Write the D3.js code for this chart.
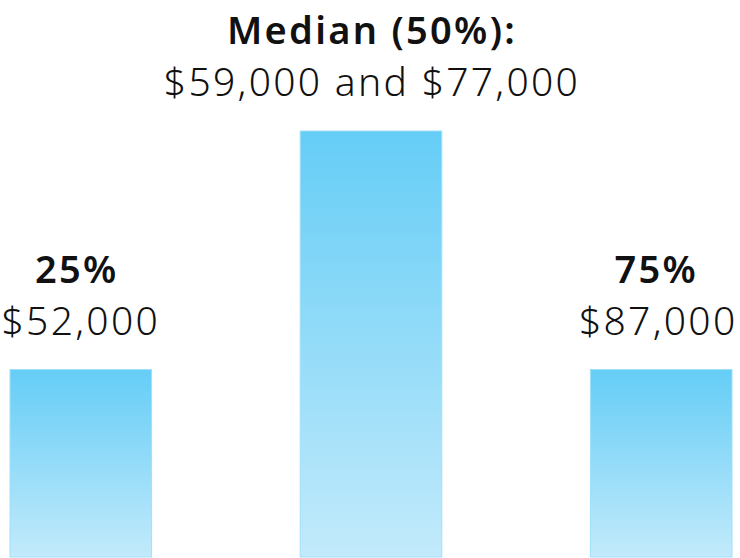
<!DOCTYPE html>
<html>
<head>
<meta charset="utf-8">
<script src="https://cdn.jsdelivr.net/npm/d3@7"></script>
<style>
  body { margin: 0; background: #fff; }
  text { font-family: "Noto Sans", "Open Sans", sans-serif; fill: #111; }
</style>
</head>
<body>
<div id="chart"></div>
<script>
// data
var categories = ["25%", "Median (50%):", "75%"];
var salaries = ["$52,000", "$59,000 and $77,000", "$87,000"];
var heights = [44, 100, 44]; // relative bar height

var width = 740, height = 558;

var svg = d3.select("#chart")
  .append("svg")
  .attr("width", width)
  .attr("height", height);

// gradient for the bars
var defs = svg.append("defs");
var grad = defs.append("linearGradient")
  .attr("id", "barGrad")
  .attr("x1", 0).attr("y1", 0)
  .attr("x2", 0).attr("y2", 1);
grad.append("stop").attr("offset", "0%").attr("stop-color", "#65cdf6");
grad.append("stop").attr("offset", "100%").attr("stop-color", "#c2eafb");

var x = d3.scaleBand()
  .domain(categories)
  .range([10, 732])
  .paddingInner(0.512)
  .paddingOuter(0);

var y = d3.scaleLinear()
  .domain([0, 100])
  .range([557, 131]);

svg.selectAll("rect.bar")
  .data(categories)
  .join("rect")
  .attr("class", "bar")
  .attr("x", d => x(d))
  .attr("y", (d, i) => y(heights[i]))
  .attr("width", x.bandwidth())
  .attr("height", (d, i) => y(0) - y(heights[i]))
  .style("fill", "url(#barGrad)")
  .style("stroke", "#9fe0fa")
  .style("stroke-width", 1);

// small horizontal nudges so the labels sit like the reference
var catShift = [-4, 1, -5];
var salShift = [0, 1, -3];

// labels: bold category, regular salary line below
svg.selectAll("text.cat")
  .data(categories)
  .join("text")
  .attr("class", "cat")
  .attr("x", (d, i) => x(d) + x.bandwidth() / 2 + catShift[i])
  .attr("y", (d, i) => y(heights[i]) - 87)
  .attr("text-anchor", "middle")
  .style("font-size", "38px")
  .style("font-weight", "600")
  .style("letter-spacing", "2.3px")
  .text(d => d);

svg.selectAll("text.sal")
  .data(categories)
  .join("text")
  .attr("class", "sal")
  .attr("x", (d, i) => x(d) + x.bandwidth() / 2 + salShift[i])
  .attr("y", (d, i) => y(heights[i]) - 35)
  .attr("text-anchor", "middle")
  .style("font-size", "39px")
  .style("font-weight", "300")
  .style("letter-spacing", "2.3px")
  .text((d, i) => salaries[i]);
</script>
</body>
</html>
